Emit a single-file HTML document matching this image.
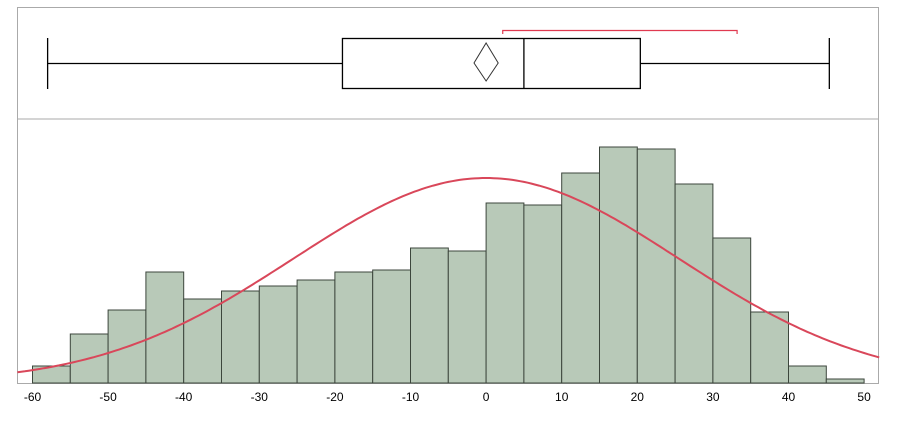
<!DOCTYPE html>
<html><head><meta charset="utf-8"><style>
body{margin:0;background:#fff;}
svg{display:block;font-family:"Liberation Sans",sans-serif;}
</style></head><body>
<svg id="c" width="898" height="430"></svg>
<script>
const binStarts=[-60,-55,-50,-45,-40,-35,-30,-25,-20,-15,-10,-5,0,5,10,15,20,25,30,35,40,45];
const counts=[17,49,73,111,84,92,97,103,111,113,135,132,180,178,210,236,234,199,145,71,17,4];
const tickLabels=[-60,-50,-40,-30,-20,-10,0,10,20,30,40,50];
const boxStats=[-58,-19,5,20.4,45.4]; // min,q1,median,q3,max
const meanDiamond=[0,-1.6,1.6];
const shortestHalf=[2.2,33.2];
const normalParams=[0,25.5,205];
const ns="http://www.w3.org/2000/svg";
const svg=document.getElementById('c');
const X=v=>32.5+(v+60)*7.56;
const baseY=383;
const Y=c=>baseY-c;
function el(t,a,name){const e=document.createElementNS(ns,t);for(const k in a)e.setAttribute(k,a[k]);


svg.appendChild(e);return e;}
el('rect',{x:17.5,y:7.5,width:861,height:111.5,fill:'none',stroke:'#aaa'},'boxplot-frame');
el('polyline',{points:`17.5,119 17.5,383.5 878.5,383.5 878.5,119`,fill:'none',stroke:'#aaa'},'histogram-frame');
binStarts.forEach((b,i)=>{
const r=el('rect',{x:X(b),y:Y(counts[i]),width:X(b+5)-X(b),height:counts[i],fill:'#b8c9b8',stroke:'#3c463c','stroke-width':1},'histogram-bar');
});
let d='';
for(let v=-62;v<=52.1;v+=0.5){const z=(v-normalParams[0])/normalParams[1];
const h=normalParams[2]*Math.exp(-z*z/2);d+=(d?'L':'M')+X(v).toFixed(1)+','+Y(h).toFixed(1);}
el('path',{d,fill:'none',stroke:'#d9475a','stroke-width':2},'normal-curve');
tickLabels.forEach(t=>{const e=el('text',{x:X(t),y:401,'font-size':12,'text-anchor':'middle',fill:'#000'},'x-tick-label');e.textContent=t;});
const [mn,q1,md,q3,mx]=boxStats;
el('line',{x1:X(mn),x2:X(q1),y1:63.5,y2:63.5,stroke:'#000','stroke-width':1.3},'left-whisker');
el('line',{x1:X(q3),x2:X(mx),y1:63.5,y2:63.5,stroke:'#000','stroke-width':1.3},'right-whisker');
el('line',{x1:X(mn),x2:X(mn),y1:38,y2:89,stroke:'#000','stroke-width':1.3},'min-cap');
el('line',{x1:X(mx),x2:X(mx),y1:38,y2:89,stroke:'#000','stroke-width':1.3},'max-cap');
el('rect',{x:X(q1),y:38.5,width:X(q3)-X(q1),height:50,fill:'none',stroke:'#000','stroke-width':1.3},'iqr-box');
el('line',{x1:X(md),x2:X(md),y1:38.5,y2:88.5,stroke:'#000','stroke-width':1.3},'median-line');
const [m,lo,hi]=meanDiamond;
el('polygon',{points:`${X(m)},43 ${X(hi)},63 ${X(m)},81 ${X(lo)},63`,fill:'none',stroke:'#333','stroke-width':1},'mean-diamond');
el('polyline',{points:`${X(shortestHalf[0])},34 ${X(shortestHalf[0])},30.5 ${X(shortestHalf[1])},30.5 ${X(shortestHalf[1])},34`,fill:'none',stroke:'#e03a50','stroke-width':1.2},'shortest-half-bracket');
</script>
</body></html>
